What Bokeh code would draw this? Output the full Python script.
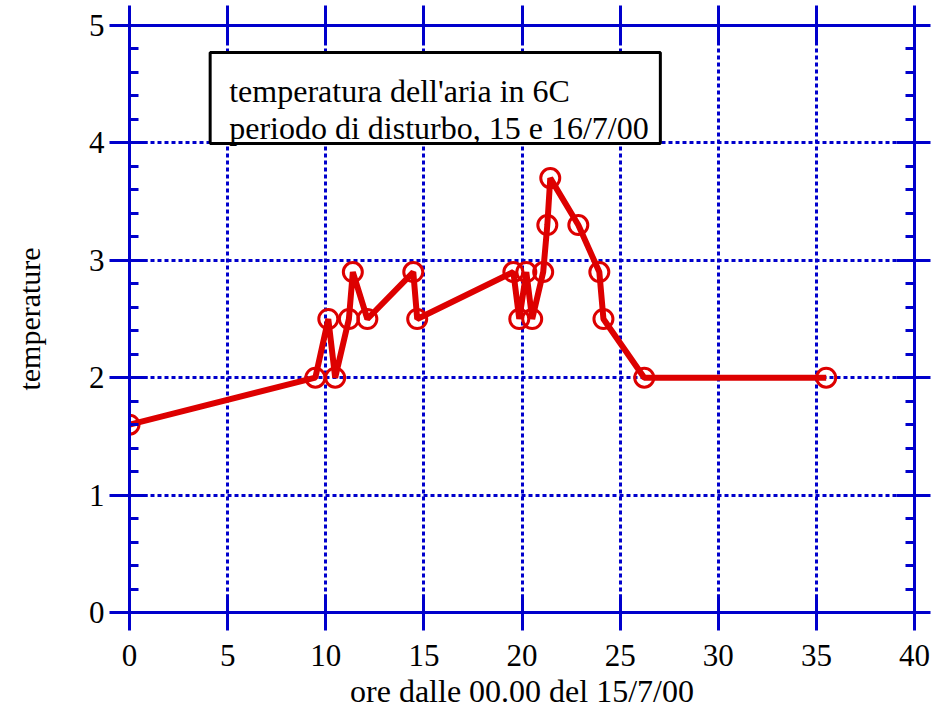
from bokeh.plotting import figure
from bokeh.models import LinearAxis, SingleIntervalTicker, Label, BoxAnnotation, Range1d
from bokeh.embed import file_html
from bokeh.resources import INLINE

# ---- data ----
hours = [0.0, 9.47, 10.13, 10.48, 11.18, 11.38, 12.12, 14.46, 14.66, 19.56, 19.86,
         20.22, 20.52, 21.08, 21.29, 21.44, 22.87, 23.94, 24.15, 26.23, 35.5]
temps = [1.6, 2.0, 2.5, 2.0, 2.5, 2.9, 2.5, 2.9, 2.5, 2.9, 2.5,
         2.9, 2.5, 2.9, 3.3, 3.7, 3.3, 2.9, 2.5, 2.0, 2.0]
x_tick_step = 5
y_tick_step = 1
legend_lines = ["temperatura dell'aria in 6C", "periodo di disturbo, 15 e 16/7/00"]
x_title = "ore dalle 00.00 del 15/7/00"
y_title = "temperature"

BLUE = "#0000cc"
RED = "#dd0000"
FONT = "Liberation Serif"

p = figure(width=932, height=711, output_backend="svg", toolbar_location=None,
           x_range=Range1d(0, 40), y_range=Range1d(0, 5),
           min_border_left=129, min_border_right=18, min_border_top=25, min_border_bottom=99)
p.outline_line_color = None
p.background_fill_color = "white"


def style(ax, minor, labels=True, out=20, inn=18):
    ax.axis_line_color = BLUE
    ax.axis_line_width = 3
    ax.major_tick_line_color = BLUE
    ax.major_tick_line_width = 3
    ax.major_tick_out = out
    ax.major_tick_in = inn
    if minor:
        ax.minor_tick_line_color = BLUE
        ax.minor_tick_line_width = 3
        ax.minor_tick_in = 9
        ax.minor_tick_out = 0
    else:
        ax.minor_tick_line_color = None
    ax.major_label_text_font = FONT
    ax.major_label_text_line_height = 1.0
    if labels:
        ax.major_label_text_color = "black"
        ax.major_label_text_font_size = "31px"
    else:
        ax.major_label_text_color = None
        ax.major_label_text_alpha = 0
        ax.major_label_text_font_size = "1px"
    ax.axis_label_text_font = FONT
    ax.axis_label_text_font_style = "normal"
    ax.axis_label_text_font_size = "30px"
    ax.axis_label_text_line_height = 1.0
    ax.axis_label_text_color = "black"


xt = SingleIntervalTicker(interval=x_tick_step, num_minor_ticks=0)
yt = SingleIntervalTicker(interval=y_tick_step, num_minor_ticks=5)

xa = p.xaxis[0]
xa.ticker = xt
style(xa, False, out=18)
xa.major_label_standoff = 14
xa.axis_label = x_title
xa.axis_label_text_font_size = "32px"
xa.axis_label_standoff = 4

ya = p.yaxis[0]
ya.ticker = yt
style(ya, True)
ya.major_label_standoff = 5
ya.axis_label = y_title
ya.axis_label_standoff = 40

top = LinearAxis(ticker=SingleIntervalTicker(interval=x_tick_step, num_minor_ticks=0))
style(top, False, labels=False, out=20)
top.major_label_standoff = 0
p.add_layout(top, "above")

right = LinearAxis(ticker=SingleIntervalTicker(interval=y_tick_step, num_minor_ticks=5))
style(right, True, labels=False, out=16)
right.major_label_standoff = 0
p.add_layout(right, "right")

for g in (p.xgrid[0], p.ygrid[0]):
    g.grid_line_color = BLUE
    g.grid_line_width = 3
    g.grid_line_dash = "4 3"
p.xgrid[0].ticker = xt
p.ygrid[0].ticker = yt

p.line(hours, temps, line_color=RED, line_width=6)
p.scatter(hours, temps, size=19, marker="circle", fill_color=None,
          line_color=RED, line_width=3)

box = BoxAnnotation(left=4.11, right=27.05, bottom=3.995, top=4.77,
                    fill_color="white", fill_alpha=1.0,
                    line_color="black", line_width=3, line_alpha=1.0)
p.add_layout(box)
for txt, yb in zip(legend_lines, [4.446, 4.131]):
    p.add_layout(Label(x=5.08, y=yb, text=txt, text_font=FONT,
                       text_font_size="32px", text_color="black",
                       text_baseline="alphabetic", text_align="left"))

open("out.html", "w").write(file_html(p, INLINE))
